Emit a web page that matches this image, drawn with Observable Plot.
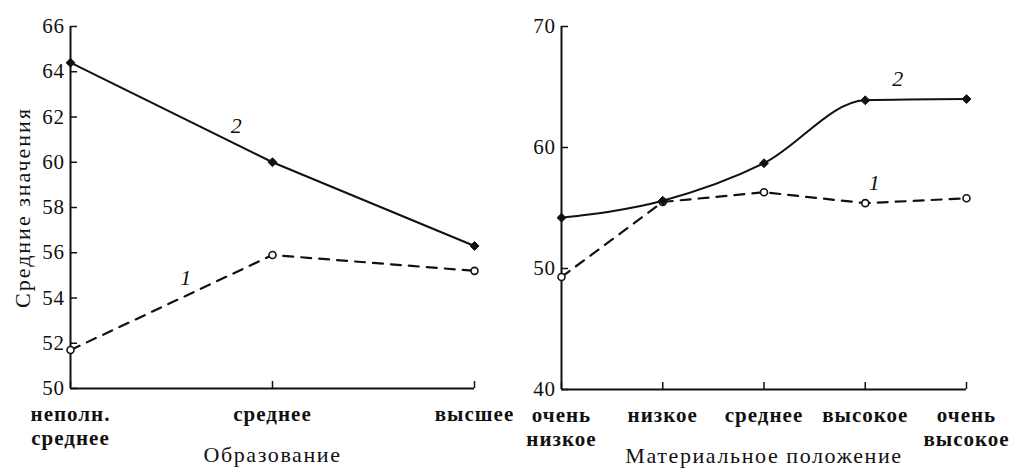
<!DOCTYPE html>
<html><head><meta charset="utf-8">
<script src="https://cdn.jsdelivr.net/npm/d3@7"></script>
<script src="https://cdn.jsdelivr.net/npm/@observablehq/plot@0.6"></script>
<style>
body{margin:0;background:#fff;}
#wrap{position:relative;width:1013px;height:470px;overflow:hidden;background:#fff;}
#left{position:absolute;left:0;top:0;}
#right{position:absolute;left:510px;top:0;}
g[aria-label="x-axis tick label"] text{letter-spacing:1px;}
g[aria-label="y-axis tick label"] text{letter-spacing:0.6px;}
g.title text{letter-spacing:1.6px;}
g.ytitle text{letter-spacing:2px;}
</style></head>
<body><div id="wrap"><div id="left"></div><div id="right"></div></div>
<script>
// Panel 1: Образование
const eduCats = ["неполн.\nсреднее", "среднее", "высшее"];
const eduS1 = [51.7, 55.9, 55.2];
const eduS2 = [64.4, 60.0, 56.3];
const eduYTicks = [50, 52, 54, 56, 58, 60, 62, 64, 66];
const eduLabels = [{t: "2", i: 0.82, v: 61.6}, {t: "1", i: 0.57, v: 54.9}];

// Panel 2: Материальное положение
const matCats = ["очень\nнизкое", "низкое", "среднее", "высокое", "очень\nвысокое"];
const matS1 = [49.3, 55.5, 56.3, 55.4, 55.8];
const matS2 = [54.2, 55.6, 58.7, 63.9, 64.0];
const matYTicks = [40, 50, 60, 70];
const matLabels = [{t: "2", i: 3.32, v: 65.7}, {t: "1", i: 3.09, v: 57.1}];

const FONT = "Liberation Serif, Times New Roman, serif";

function panel({cats, s1, s2, yTicks, labels, yDomain, width, mL, mR, mT, mB, xTitle, yTitle, curve2, curve1}) {
  const idx = cats.map((_, i) => i);
  const d1 = idx.map(i => ({i, v: s1[i]}));
  const d2 = idx.map(i => ({i, v: s2[i]}));
  const marks = [
    Plot.ruleY([yDomain[0]], {strokeWidth: 2, stroke: "#111"}),
    Plot.ruleX([0], {strokeWidth: 2, stroke: "#111"}),
    Plot.axisY({ticks: yTicks, tickSize: 0, tickPadding: 6, label: null, fontSize: 21, fill: "#111"}),
    Plot.axisY({ticks: yTicks, tickSize: 7, dx: 7, tickFormat: () => "", label: null, strokeWidth: 1.5}),
    Plot.axisX({ticks: idx, tickSize: 0, tickPadding: 15, tickFormat: i => cats[i], label: null, fontSize: 21, fontWeight: "bold", lineHeight: 1.15, fill: "#111"}),
    Plot.axisX({ticks: idx, tickSize: 7, dy: -7, tickFormat: () => "", label: null, strokeWidth: 1.5}),
    Plot.line(d1, {x: "i", y: "v", stroke: "#111", strokeWidth: 2.2, strokeDasharray: "10,8", curve: curve1}),
    Plot.line(d2, {x: "i", y: "v", stroke: "#111", strokeWidth: 2, curve: curve2}),
    Plot.dot(d1, {x: "i", y: "v", symbol: "circle", r: 3.5, fill: "white", stroke: "#111", strokeWidth: 1.6}),
    Plot.dot(d2, {x: "i", y: "v", symbol: "diamond2", r: 4, fill: "#111", stroke: "#111", strokeWidth: 1}),
    Plot.text(labels, {x: "i", y: "v", text: "t", fontSize: 22, fontStyle: "italic", fill: "#111"}),
    Plot.text([xTitle], {frameAnchor: "bottom", dy: 73, fontSize: 22, fill: "#111", className: "title"})
  ];
  if (yTitle) marks.push(Plot.text([yTitle], {frameAnchor: "left", textAnchor: "middle", dx: -48, rotate: -90, fontSize: 22, fill: "#111", className: "ytitle"}));
  return Plot.plot({
    width, height: 470,
    marginLeft: mL, marginRight: mR, marginTop: mT, marginBottom: mB,
    style: {fontFamily: FONT, fontSize: "20px", background: "transparent", color: "#111", overflow: "visible"},
    x: {type: "linear", domain: [0, cats.length - 1], axis: null},
    y: {domain: yDomain, axis: null},
    marks
  });
}

document.getElementById("left").appendChild(panel({
  cats: eduCats, s1: eduS1, s2: eduS2, yTicks: eduYTicks, labels: eduLabels, yDomain: [50, 66],
  width: 510, mL: 70, mR: 36, mT: 26, mB: 82, xTitle: "Образование", yTitle: "Средние значения",
  curve1: "linear", curve2: "linear"
}));
document.getElementById("right").appendChild(panel({
  cats: matCats, s1: matS1, s2: matS2, yTicks: matYTicks, labels: matLabels, yDomain: [40, 70],
  width: 503, mL: 51, mR: 47, mT: 26, mB: 81, xTitle: "Материальное положение", yTitle: null,
  curve1: "linear", curve2: "monotone-x"
}));
</script></body></html>
